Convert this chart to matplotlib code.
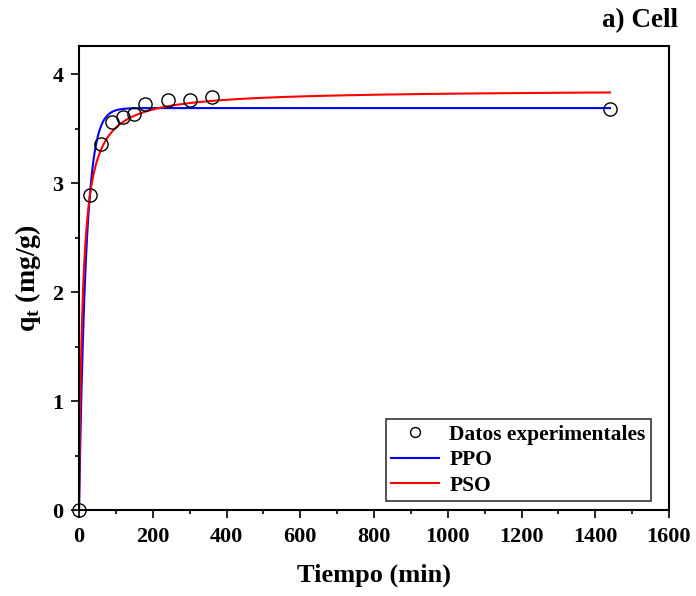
import numpy as np
import matplotlib
matplotlib.use("Agg")
import matplotlib.pyplot as plt
from matplotlib.ticker import MultipleLocator

# Experimental data
t_exp = [0, 30, 60, 90, 120, 150, 180, 240, 300, 360, 1440]
q_exp = [0.0, 2.89, 3.36, 3.56, 3.61, 3.64, 3.73, 3.76, 3.76, 3.79, 3.68]

# Fitted kinetic model parameters
ppo_qe, ppo_k1 = 3.69, 0.052
pso_qe, pso_k2 = 3.86, 0.026

plt.rcParams['font.family'] = ['Liberation Serif', 'DejaVu Serif']
plt.rcParams['font.weight'] = 'bold'
plt.rcParams['mathtext.fontset'] = 'custom'
plt.rcParams['mathtext.bf'] = 'Liberation Serif:bold'
plt.rcParams['mathtext.rm'] = 'Liberation Serif:bold'

fig = plt.figure(figsize=(6.96, 5.96), dpi=100)
ax = fig.add_axes([79/696, 86/596, 590/696, 464/596])

t = np.linspace(0, 1440, 2000)
q_ppo = ppo_qe * (1 - np.exp(-ppo_k1 * t))
q_pso = pso_qe**2 * pso_k2 * t / (1 + pso_qe * pso_k2 * t)

ax.plot(t_exp, q_exp, 'o', mfc='none', mec='black', ms=9.5, mew=1.0,
        label='Datos experimentales', zorder=3, clip_on=False)
ax.plot(t, q_ppo, color='#0000ff', lw=1.5, label='PPO', zorder=2)
ax.plot(t, q_pso, color='#ff0000', lw=1.5, label='PSO', zorder=2)

ax.set_xlim(0, 1600)
ax.set_ylim(0, 4.26)
ax.xaxis.set_major_locator(MultipleLocator(200))
ax.xaxis.set_minor_locator(MultipleLocator(100))
ax.yaxis.set_major_locator(MultipleLocator(1))
ax.yaxis.set_minor_locator(MultipleLocator(0.5))
ax.tick_params(which='both', direction='out', width=1.2, labelsize=16)
ax.tick_params(which='major', length=6)
ax.tick_params(which='minor', length=3)
ax.tick_params(axis='x', which='major', pad=6)
ax.tick_params(axis='y', which='major', pad=5)
for lab in ax.get_xticklabels() + ax.get_yticklabels():
    lab.set_fontweight('bold')
for s in ax.spines.values():
    s.set_linewidth(1.5)

ax.set_xlabel('Tiempo (min)', fontsize=19, fontweight='bold', labelpad=12)
ax.set_ylabel(r'q$_\mathrm{t}$ (mg/g)', fontsize=20, fontweight='bold', labelpad=7)

leg = ax.legend(loc='lower right', bbox_to_anchor=(0.9695, 0.0194),
                prop={'weight': 'bold', 'size': 15.5},
                frameon=True, fancybox=False, edgecolor='black',
                handlelength=2.2, handletextpad=0.5, borderpad=0.25,
                labelspacing=0.25, markerscale=0.75, borderaxespad=0.0)
leg.get_frame().set_linewidth(1.2)

fig.text(640/696, 1 - 21/596, 'a) Cell', ha='center', va='center',
         fontsize=19.5, fontweight='bold')

fig.savefig('out.png', dpi=100)
